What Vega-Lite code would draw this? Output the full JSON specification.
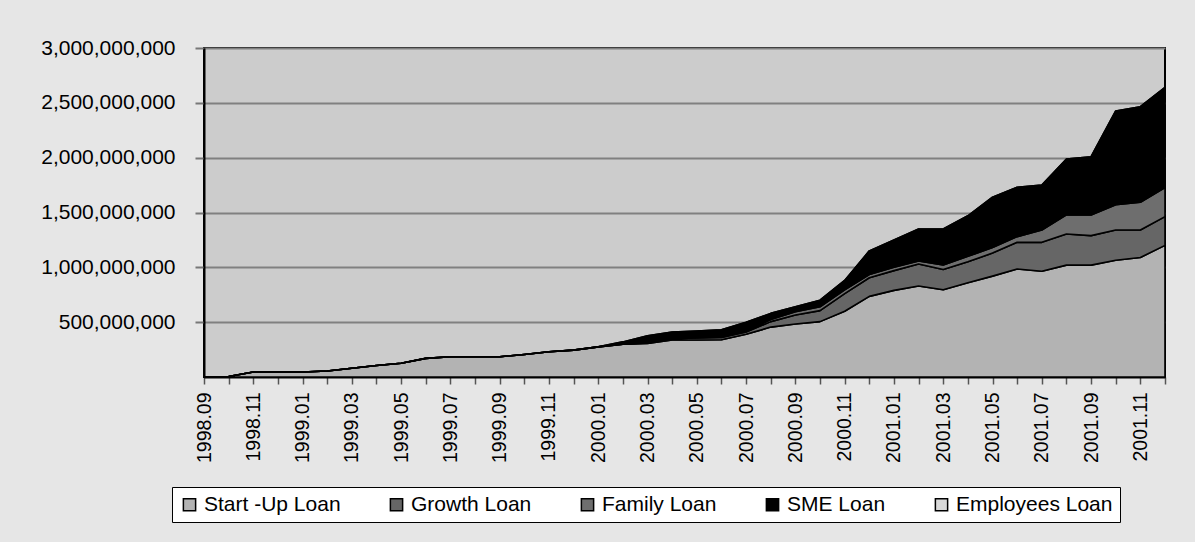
{
  "$schema": "https://vega.github.io/schema/vega-lite/v6.json",
  "autosize": "none",
  "width": 961,
  "height": 329,
  "padding": {"left": 204, "top": 48, "right": 30, "bottom": 165},
  "background": "#e6e6e6",
  "datasets": {
    "loans": [
      {"loan": "Start -Up Loan", "rank": 1},
      {"loan": "Growth Loan", "rank": 2},
      {"loan": "Family Loan", "rank": 3},
      {"loan": "SME Loan", "rank": 4},
      {"loan": "Employees Loan", "rank": 5}
    ]
  },
  "data": {
    "values": [
      {"month": "1998.09", "Start -Up Loan": 0, "Growth Loan": 0, "Family Loan": 0, "SME Loan": 0, "Employees Loan": 0},
      {"month": "1998.10", "Start -Up Loan": 5000000, "Growth Loan": 0, "Family Loan": 0, "SME Loan": 0, "Employees Loan": 0},
      {"month": "1998.11", "Start -Up Loan": 45000000, "Growth Loan": 0, "Family Loan": 0, "SME Loan": 0, "Employees Loan": 0},
      {"month": "1998.12", "Start -Up Loan": 45000000, "Growth Loan": 0, "Family Loan": 0, "SME Loan": 0, "Employees Loan": 0},
      {"month": "1999.01", "Start -Up Loan": 45000000, "Growth Loan": 0, "Family Loan": 0, "SME Loan": 0, "Employees Loan": 0},
      {"month": "1999.02", "Start -Up Loan": 55000000, "Growth Loan": 0, "Family Loan": 0, "SME Loan": 0, "Employees Loan": 0},
      {"month": "1999.03", "Start -Up Loan": 80000000, "Growth Loan": 0, "Family Loan": 0, "SME Loan": 0, "Employees Loan": 0},
      {"month": "1999.04", "Start -Up Loan": 105000000, "Growth Loan": 0, "Family Loan": 0, "SME Loan": 0, "Employees Loan": 0},
      {"month": "1999.05", "Start -Up Loan": 125000000, "Growth Loan": 0, "Family Loan": 0, "SME Loan": 0, "Employees Loan": 0},
      {"month": "1999.06", "Start -Up Loan": 170000000, "Growth Loan": 0, "Family Loan": 0, "SME Loan": 0, "Employees Loan": 0},
      {"month": "1999.07", "Start -Up Loan": 185000000, "Growth Loan": 0, "Family Loan": 0, "SME Loan": 0, "Employees Loan": 0},
      {"month": "1999.08", "Start -Up Loan": 185000000, "Growth Loan": 0, "Family Loan": 0, "SME Loan": 0, "Employees Loan": 0},
      {"month": "1999.09", "Start -Up Loan": 185000000, "Growth Loan": 0, "Family Loan": 0, "SME Loan": 0, "Employees Loan": 0},
      {"month": "1999.10", "Start -Up Loan": 205000000, "Growth Loan": 0, "Family Loan": 0, "SME Loan": 0, "Employees Loan": 0},
      {"month": "1999.11", "Start -Up Loan": 230000000, "Growth Loan": 0, "Family Loan": 0, "SME Loan": 0, "Employees Loan": 0},
      {"month": "1999.12", "Start -Up Loan": 245000000, "Growth Loan": 0, "Family Loan": 0, "SME Loan": 0, "Employees Loan": 0},
      {"month": "2000.01", "Start -Up Loan": 275000000, "Growth Loan": 0, "Family Loan": 0, "SME Loan": 0, "Employees Loan": 0},
      {"month": "2000.02", "Start -Up Loan": 298000000, "Growth Loan": 0, "Family Loan": 0, "SME Loan": 22000000, "Employees Loan": 0},
      {"month": "2000.03", "Start -Up Loan": 305000000, "Growth Loan": 5000000, "Family Loan": 5000000, "SME Loan": 60000000, "Employees Loan": 0},
      {"month": "2000.04", "Start -Up Loan": 337000000, "Growth Loan": 13000000, "Family Loan": 5000000, "SME Loan": 55000000, "Employees Loan": 0},
      {"month": "2000.05", "Start -Up Loan": 337000000, "Growth Loan": 18000000, "Family Loan": 5000000, "SME Loan": 60000000, "Employees Loan": 0},
      {"month": "2000.06", "Start -Up Loan": 340000000, "Growth Loan": 20000000, "Family Loan": 5000000, "SME Loan": 65000000, "Employees Loan": 0},
      {"month": "2000.07", "Start -Up Loan": 390000000, "Growth Loan": 20000000, "Family Loan": 10000000, "SME Loan": 80000000, "Employees Loan": 0},
      {"month": "2000.08", "Start -Up Loan": 455000000, "Growth Loan": 50000000, "Family Loan": 20000000, "SME Loan": 55000000, "Employees Loan": 0},
      {"month": "2000.09", "Start -Up Loan": 483000000, "Growth Loan": 82000000, "Family Loan": 30000000, "SME Loan": 45000000, "Employees Loan": 0},
      {"month": "2000.10", "Start -Up Loan": 505000000, "Growth Loan": 100000000, "Family Loan": 35000000, "SME Loan": 60000000, "Employees Loan": 0},
      {"month": "2000.11", "Start -Up Loan": 600000000, "Growth Loan": 160000000, "Family Loan": 35000000, "SME Loan": 85000000, "Employees Loan": 0},
      {"month": "2000.12", "Start -Up Loan": 735000000, "Growth Loan": 170000000, "Family Loan": 30000000, "SME Loan": 215000000, "Employees Loan": 0},
      {"month": "2001.01", "Start -Up Loan": 790000000, "Growth Loan": 180000000, "Family Loan": 30000000, "SME Loan": 250000000, "Employees Loan": 0},
      {"month": "2001.02", "Start -Up Loan": 830000000, "Growth Loan": 200000000, "Family Loan": 28000000, "SME Loan": 292000000, "Employees Loan": 0},
      {"month": "2001.03", "Start -Up Loan": 795000000, "Growth Loan": 185000000, "Family Loan": 42000000, "SME Loan": 328000000, "Employees Loan": 0},
      {"month": "2001.04", "Start -Up Loan": 860000000, "Growth Loan": 190000000, "Family Loan": 50000000, "SME Loan": 370000000, "Employees Loan": 0},
      {"month": "2001.05", "Start -Up Loan": 920000000, "Growth Loan": 210000000, "Family Loan": 50000000, "SME Loan": 460000000, "Employees Loan": 0},
      {"month": "2001.06", "Start -Up Loan": 985000000, "Growth Loan": 243000000, "Family Loan": 52000000, "SME Loan": 450000000, "Employees Loan": 0},
      {"month": "2001.07", "Start -Up Loan": 965000000, "Growth Loan": 263000000, "Family Loan": 112000000, "SME Loan": 410000000, "Employees Loan": 0},
      {"month": "2001.08", "Start -Up Loan": 1020000000, "Growth Loan": 284000000, "Family Loan": 174000000, "SME Loan": 510000000, "Employees Loan": 0},
      {"month": "2001.09", "Start -Up Loan": 1020000000, "Growth Loan": 269000000, "Family Loan": 189000000, "SME Loan": 531000000, "Employees Loan": 0},
      {"month": "2001.10", "Start -Up Loan": 1065000000, "Growth Loan": 276000000, "Family Loan": 229000000, "SME Loan": 856000000, "Employees Loan": 0},
      {"month": "2001.11", "Start -Up Loan": 1090000000, "Growth Loan": 251000000, "Family Loan": 252000000, "SME Loan": 872000000, "Employees Loan": 0},
      {"month": "2001.12", "Start -Up Loan": 1200000000, "Growth Loan": 262000000, "Family Loan": 265000000, "SME Loan": 913000000, "Employees Loan": 0}
    ]
  },
  "transform": [
    {"fold": ["Start -Up Loan", "Growth Loan", "Family Loan", "SME Loan", "Employees Loan"], "as": ["loan", "amount"]},
    {"lookup": "loan", "from": {"data": {"name": "loans"}, "key": "loan", "fields": ["rank"]}}
  ],
  "mark": {"type": "area", "stroke": "black", "strokeWidth": 1.6, "strokeJoin": "round", "opacity": 1},
  "encoding": {
    "x": {
      "field": "month",
      "type": "ordinal",
      "scale": {"type": "point", "padding": 0},
      "axis": {
        "title": null,
        "labelAngle": -90,
        "labelExpr": "test(/\\.(01|03|05|07|09|11)$/, datum.label) ? datum.label : ''",
        "labelOverlap": false,
        "labelFont": "Liberation Sans, Arial",
        "labelFontSize": 19.5,
        "labelColor": "black",
        "labelPadding": 8,
        "tickSize": 7,
        "tickColor": "#555555",
        "tickWidth": 1.5,
        "domainColor": "black",
        "domainWidth": 2,
        "grid": false
      }
    },
    "y": {
      "field": "amount",
      "type": "quantitative",
      "stack": "zero",
      "scale": {"domain": [0, 3000000000], "nice": false},
      "axis": {
        "title": null,
        "values": [500000000, 1000000000, 1500000000, 2000000000, 2500000000, 3000000000],
        "format": ",d",
        "labelFont": "Liberation Sans, Arial",
        "labelFontSize": 21,
        "labelColor": "black",
        "labelPadding": 20,
        "tickSize": 9,
        "tickColor": "#777777",
        "tickWidth": 2,
        "domainColor": "black",
        "domainWidth": 2,
        "grid": true,
        "gridColor": "#808080",
        "gridWidth": 2,
        "gridOpacity": 1
      }
    },
    "color": {
      "field": "loan",
      "type": "nominal",
      "scale": {
        "domain": ["Start -Up Loan", "Growth Loan", "Family Loan", "SME Loan", "Employees Loan"],
        "range": ["#b3b3b3", "#666666", "#6e6e6e", "#000000", "#d9d9d9"]
      },
      "legend": {
        "title": null,
        "orient": "none",
        "legendX": -32,
        "legendY": 439,
        "direction": "horizontal",
        "fillColor": "white",
        "strokeColor": "black",
        "padding": 7,
        "columnPadding": 45,
        "symbolType": "square",
        "symbolSize": 150,
        "symbolStrokeColor": "black",
        "symbolStrokeWidth": 1.5,
        "symbolOpacity": 1,
        "labelFont": "Liberation Sans, Arial",
        "labelFontSize": 21,
        "labelColor": "black",
        "labelOffset": 4,
        "labelLimit": 300
      }
    },
    "order": {"field": "rank", "type": "quantitative"}
  },
  "config": {
    "view": {"fill": "#cccccc", "stroke": "black", "strokeWidth": 2}
  }
}
